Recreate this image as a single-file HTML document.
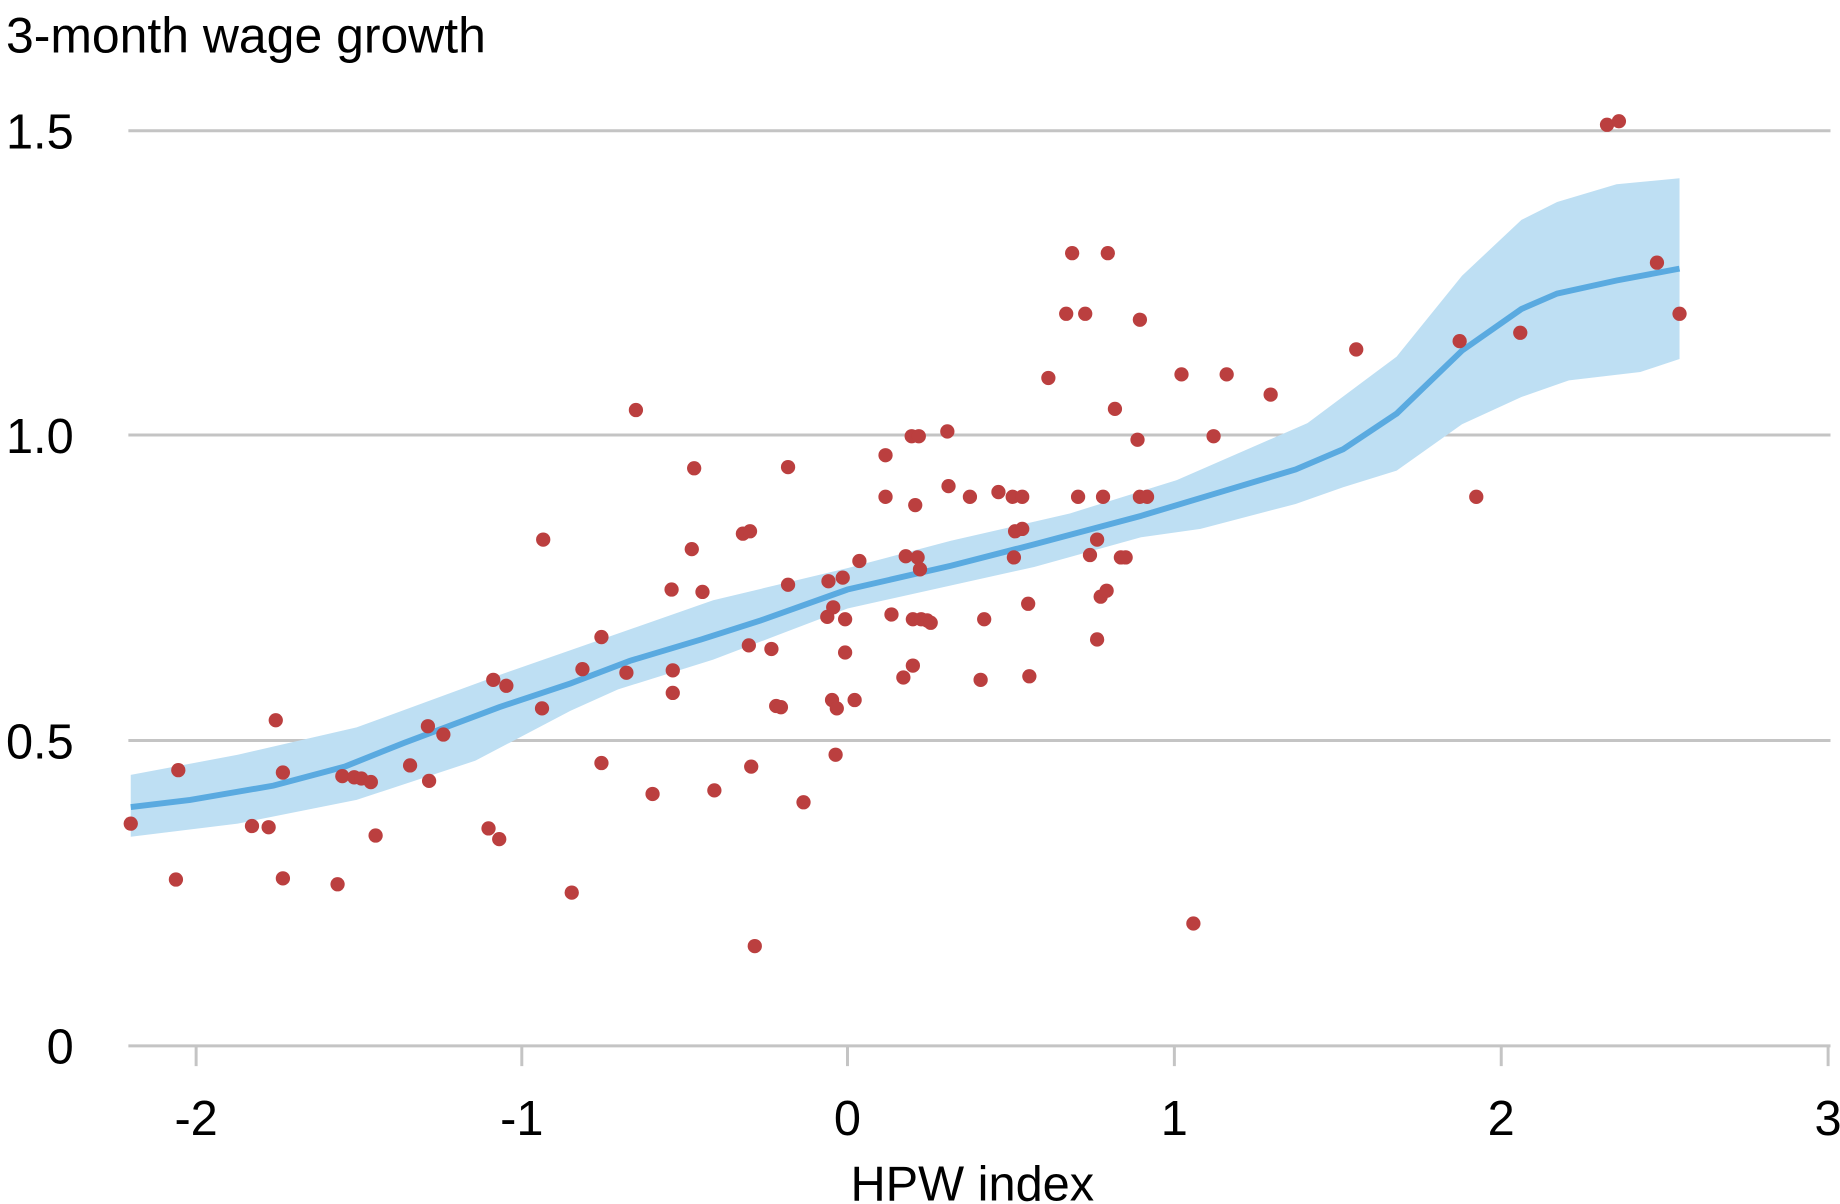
<!DOCTYPE html>
<html><head><style>body{margin:0;background:#fff}svg{display:block}</style></head><body>
<svg width="1840" height="1204" viewBox="0 0 1548 1013" preserveAspectRatio="none" font-family="Liberation Sans, Arial, sans-serif">
<text x="5" y="44" font-size="42">3-month wage growth</text>
<g stroke="#c4c4c4" stroke-width="2.5">
<line x1="108" x2="1540" y1="110" y2="110"/><line x1="108" x2="1540" y1="366" y2="366"/><line x1="108" x2="1540" y1="623" y2="623"/><line x1="108" x2="1540" y1="880" y2="880"/>
<line x1="165" x2="165" y1="880" y2="897"/><line x1="439" x2="439" y1="880" y2="897"/><line x1="713" x2="713" y1="880" y2="897"/><line x1="988" x2="988" y1="880" y2="897"/><line x1="1263" x2="1263" y1="880" y2="897"/><line x1="1538" x2="1538" y1="880" y2="897"/>
</g>
<g font-size="41" text-anchor="end"><text x="62" y="125">1.5</text><text x="62" y="381">1.0</text><text x="62" y="638">0.5</text><text x="62" y="895">0</text></g>
<g font-size="41" text-anchor="middle"><text x="165" y="955">-2</text><text x="439" y="955">-1</text><text x="713" y="955">0</text><text x="988" y="955">1</text><text x="1263" y="955">2</text><text x="1538" y="955">3</text><text x="818" y="1010">HPW index</text></g>
<path fill="#bedff3" d="M110,652 L200,635 L300,612 L420,568 L500,540 L600,505 L713,478 L800,455 L900,432 L990,404 L1100,356 L1175,300 L1230,232 L1280,185 L1310,170 L1360,155 L1413,150 L1413,302 L1380,313 L1320,320 L1280,334 L1230,357 L1175,396 L1130,410 L1090,424 L1010,445 L960,452 L870,477 L713,512 L600,555 L520,580 L480,598 L400,640 L300,673 L200,693 L110,704Z"/>
<polyline fill="none" stroke="#5aaae0" stroke-width="5" points="110,679 160,673 230,661 290,645 340,625 420,595 480,575 530,556 590,538 640,522 713,496 800,476 870,458 960,434 1020,416 1090,395 1130,378 1175,348 1230,295 1280,260 1310,247 1360,236 1413,226"/>
<g fill="#bb3f3f" id="p"></g>
</svg>
<script>
var pts=[[110,693],[150,648],[148,740],[212,695],[226,696],[232,606],[238,650],[238,739],[284,744],[288,653],[298,654],[304,655],[312,658],[316,703],[345,644],[360,611],[361,657],[373,618],[411,697],[415,572],[420,706],[426,577],[456,596],[457,454],[481,751],[490,563],[506,536],[506,642],[527,566],[535,345],[549,668],[565,496],[566,564],[566,583],[582,462],[584,394],[591,498],[601,665],[625,449],[630,543],[631,447],[632,645],[635,796],[649,546],[653,594],[657,595],[663,492],[663,393],[676,675],[696,519],[697,489],[700,589],[701,511],[703,635],[704,596],[709,486],[711,549],[711,521],[719,589],[723,472],[745,383],[745,418],[750,517],[760,570],[762,468],[767,367],[768,560],[768,521],[770,425],[772,469],[773,367],[774,479],[775,521],[780,522],[783,524],[797,363],[798,409],[816,418],[828,521],[825,572],[840,414],[852,418],[853,469],[854,447],[860,418],[860,445],[865,508],[866,569],[882,318],[897,264],[902,213],[907,418],[913,264],[917,467],[923,454],[923,538],[926,502],[928,418],[931,497],[932,213],[938,344],[943,469],[947,469],[957,370],[959,269],[959,418],[965,418],[994,315],[1004,777],[1021,367],[1032,315],[1069,332],[1141,294],[1228,287],[1242,418],[1279,280],[1352,105],[1362,102],[1394,221],[1413,264]];
var g=document.getElementById('p'),s='';pts.forEach(function(p){s+='<circle cx="'+p[0]+'" cy="'+p[1]+'" r="6"/>';});g.innerHTML=s;
</script>
</body></html>
